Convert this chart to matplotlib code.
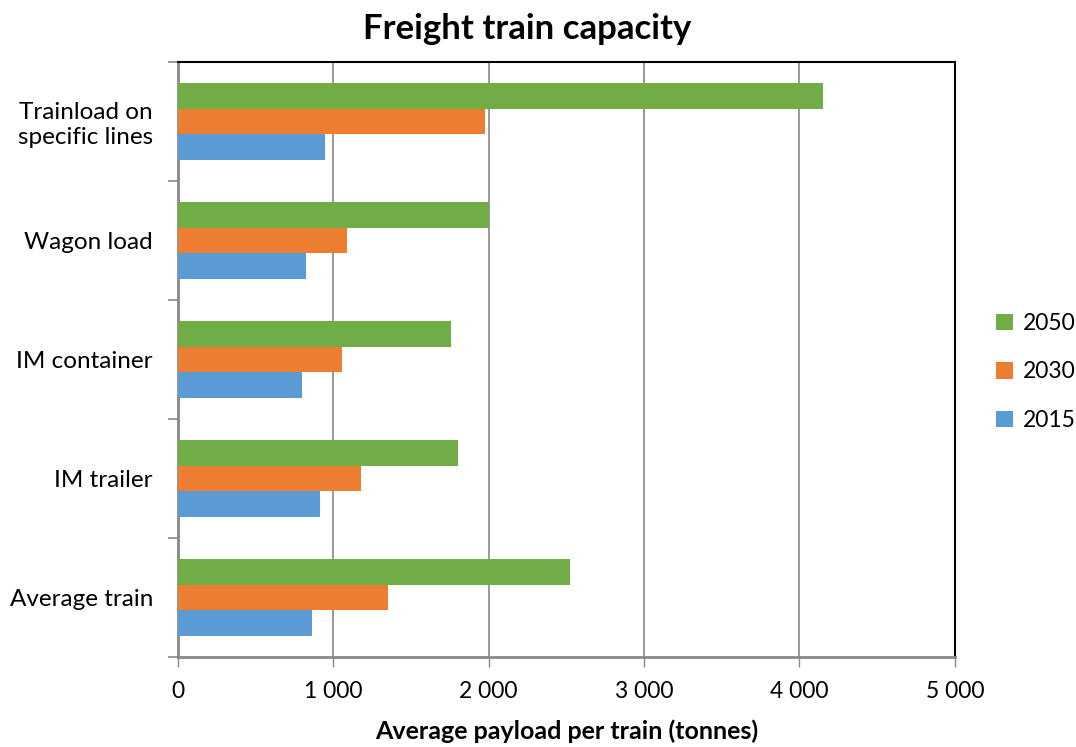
import matplotlib
matplotlib.use("Agg")
import matplotlib.pyplot as plt
import numpy as np
from matplotlib.ticker import FuncFormatter

categories = ["Trainload on\nspecific lines", "Wagon load", "IM container", "IM trailer", "Average train"]
series_names = ["2050", "2030", "2015"]
v2050 = [4150, 2000, 1755, 1800, 2525]
v2030 = [1975, 1090, 1058, 1175, 1350]
v2015 = [945, 825, 800, 917, 860]
colors = ["#70AD47", "#ED7D31", "#5B9BD5"]
xticks = [0, 1000, 2000, 3000, 4000, 5000]

plt.rcParams['font.family'] = ['Lato', 'DejaVu Sans']

fig = plt.figure(figsize=(10.76, 7.47), dpi=100)
ax = fig.add_axes([0.1654, 0.1205, 0.722, 0.7965])

n = len(categories)
y = np.arange(n)
bh = 0.218
offsets = [-bh, 0, bh]
for vals, name, col, off in zip([v2050, v2030, v2015], series_names, colors, offsets):
    ax.barh(y + off, vals, height=bh, color=col, label=name, zorder=3)

ax.set_ylim(n - 0.5, -0.5)
ax.set_xlim(0, 5000)
ax.set_xticks(xticks)
ax.xaxis.set_major_formatter(FuncFormatter(lambda v, p: f"{int(v):,}".replace(",", " ")))
ax.set_yticks(y)
ax.set_yticklabels(categories, fontsize=17.5, linespacing=1.2)
ax.set_yticks(np.arange(n + 1) - 0.5, minor=True)
ax.tick_params(axis='y', which='major', length=0, pad=18)
ax.tick_params(axis='y', which='minor', length=7, color='#888888', width=1.2)
ax.tick_params(axis='x', length=7, color='#888888', width=1, labelsize=16.5, pad=10)
ax.grid(axis='x', color='#888888', linewidth=1.2, zorder=0)

for s in ['left', 'bottom']:
    ax.spines[s].set_color('#888888')
    ax.spines[s].set_linewidth(2)
for s in ['top', 'right']:
    ax.spines[s].set_color('black')
    ax.spines[s].set_linewidth(1.5)

ax.set_xlabel("Average payload per train (tonnes)", fontsize=18, fontweight='bold', labelpad=13)
fig.suptitle("Freight train capacity", fontsize=25, fontweight='bold', x=0.49, y=0.982)

leg = ax.legend(loc='center left', bbox_to_anchor=(1.026, 0.479), frameon=False,
                fontsize=16.5, handlelength=0.75, handleheight=0.75, labelspacing=1.2,
                handletextpad=0.45)

fig.savefig("out.png", dpi=100)
